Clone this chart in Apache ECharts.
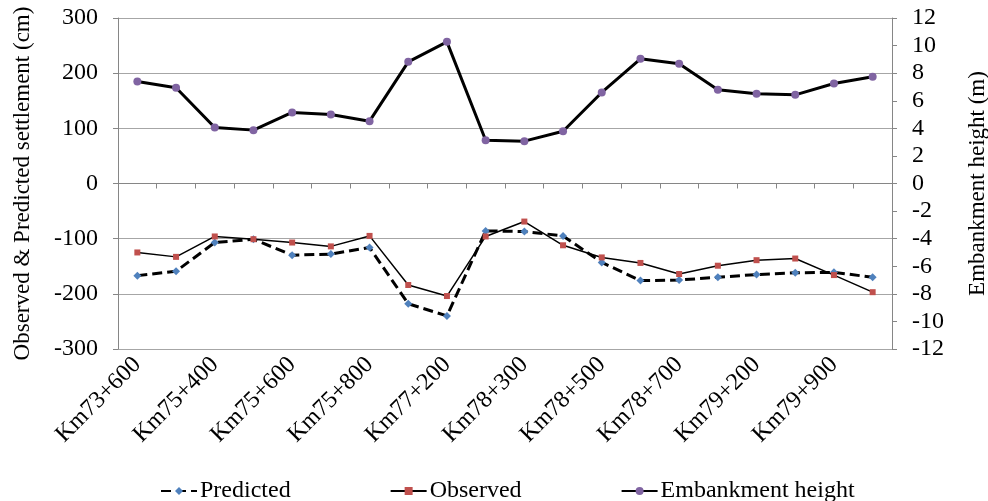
<!DOCTYPE html>
<html>
<head>
<meta charset="utf-8">
<script src="https://cdn.jsdelivr.net/npm/echarts@6/dist/echarts.min.js"></script>
<style>
  html, body { margin: 0; padding: 0; background: #ffffff; }
  #chart { width: 988px; height: 501px; }
</style>
</head>
<body>
<div id="chart"></div>
<script>
// Chainage stations (only every second one carries a label)
const stations = [
  'Km73+600', '', 'Km75+400', '', 'Km75+600', '', 'Km75+800', '',
  'Km77+200', '', 'Km78+300', '', 'Km78+500', '', 'Km78+700', '',
  'Km79+200', '', 'Km79+900', ''
];

// Settlement, cm (negative = downward)
const predicted = [-167, -159, -107, -101, -130, -128, -116, -218, -240, -86,
                   -87, -95, -143, -176, -175, -170, -165, -162, -161, -170];
const observed  = [-125, -133, -96, -101, -107, -114, -95, -184, -204, -96,
                   -69, -112, -134, -144, -164, -149, -139, -136, -166, -197];

// Embankment height, m
const embankment = [7.40, 6.94, 4.06, 3.87, 5.15, 5.00, 4.52, 8.82, 10.27, 3.14,
                    3.07, 3.79, 6.60, 9.04, 8.68, 6.79, 6.50, 6.43, 7.25, 7.74];

const font = 'Liberation Serif, Times New Roman, serif';
const fs = 24;
const nameFs = 23;
const axisGray = '#868686';
const gridGray = '#a6a6a6';

const chart = echarts.init(document.getElementById('chart'), null, { renderer: 'canvas' });

chart.setOption({
  backgroundColor: '#ffffff',
  animation: false,
  textStyle: { fontFamily: font, color: '#000' },
  grid: { left: 118, right: 96, top: 18, bottom: 152, containLabel: false, outerBoundsMode: 'none' },
  legend: {
    top: 474,
    left: 155,
    itemWidth: 36,
    itemHeight: 10,
    itemGap: 99,
    textStyle: { fontFamily: font, fontSize: fs, color: '#000', padding: [0, 0, 0, -2] },
    data: ['Predicted', 'Observed', 'Embankment height']
  },
  xAxis: {
    type: 'category',
    data: stations,
    boundaryGap: true,
    axisLine: { show: true, lineStyle: { color: axisGray, width: 1 } },
    axisTick: { show: true, interval: 0, length: 5, inside: false, lineStyle: { color: axisGray } },
    axisLabel: {
      interval: 0,
      rotate: 45,
      margin: 12,
      fontFamily: font,
      fontSize: fs,
      color: '#000'
    },
    splitLine: { show: false }
  },
  yAxis: [
    {
      type: 'value',
      min: -300,
      max: 300,
      interval: 100,
      name: 'Observed & Predicted settlement (cm)',
      nameLocation: 'middle',
      nameRotate: 90,
      nameGap: 84,
      nameTextStyle: { fontFamily: font, fontSize: nameFs, color: '#000' },
      axisLine: { show: true, lineStyle: { color: axisGray } },
      axisTick: { show: true, length: 5, lineStyle: { color: axisGray } },
      axisLabel: { margin: 20, fontFamily: font, fontSize: fs, color: '#000' },
      splitLine: { show: true, lineStyle: { color: gridGray, width: 1 } }
    },
    {
      type: 'value',
      min: -12,
      max: 12,
      interval: 2,
      position: 'right',
      name: 'Embankment height (m)',
      nameLocation: 'middle',
      nameRotate: 90,
      nameGap: 74,
      nameTextStyle: { fontFamily: font, fontSize: nameFs, color: '#000' },
      axisLine: { show: true, lineStyle: { color: axisGray } },
      axisTick: { show: true, length: 5, lineStyle: { color: axisGray } },
      axisLabel: { margin: 20, fontFamily: font, fontSize: fs, color: '#000' },
      splitLine: { show: false }
    }
  ],
  series: [
    {
      name: 'Predicted',
      type: 'line',
      yAxisIndex: 0,
      data: predicted,
      symbol: 'diamond',
      symbolSize: 8,
      itemStyle: { color: '#4f81bd' },
      lineStyle: { color: '#000', width: 3, type: [10, 5] },
      z: 3
    },
    {
      name: 'Observed',
      type: 'line',
      yAxisIndex: 0,
      data: observed,
      symbol: 'rect',
      symbolSize: 6,
      itemStyle: { color: '#c0504d' },
      lineStyle: { color: '#000', width: 1.5 },
      z: 4
    },
    {
      name: 'Embankment height',
      type: 'line',
      yAxisIndex: 1,
      data: embankment,
      symbol: 'circle',
      symbolSize: 8,
      itemStyle: { color: '#8064a2' },
      lineStyle: { color: '#000', width: 3 },
      z: 5
    }
  ]
});
</script>
</body>
</html>
